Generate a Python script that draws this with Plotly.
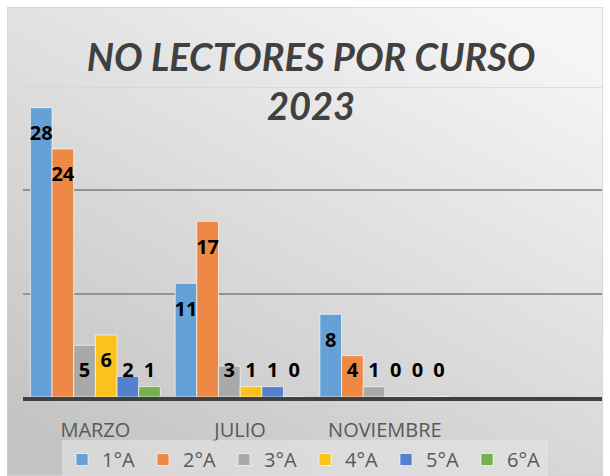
import base64
import plotly.graph_objects as go

months = ["MARZO", "JULIO", "NOVIEMBRE"]
courses = ["1°A", "2°A", "3°A", "4°A", "5°A", "6°A"]
v1 = [28, 11, 8]
v2 = [24, 17, 4]
v3 = [5, 3, 1]
v4 = [6, 1, 0]
v5 = [2, 1, 0]
v6 = [1, 0, 0]
series = [v1, v2, v3, v4, v5, v6]
colors = ["#65a0d6", "#ed8944", "#a9a9a9", "#fbc21e", "#5481cb", "#77b04f"]
title_lines = ["NO LECTORES POR CURSO", "2023"]

W, H = 610, 476
BARGAP = 0.102

fig = go.Figure()
for name, vals, col in zip(courses, series, colors):
    fig.add_trace(go.Bar(
        x=months, y=vals, name=name,
        marker=dict(color=col, line=dict(color="rgba(255,255,255,0.65)", width=1)),
        hoverinfo="x+y+name",
    ))
for name, vals in zip(courses, series):
    fig.add_trace(go.Scatter(
        x=months, y=[max(v - 2.65, 2.4) for v in vals],
        text=[str(v) for v in vals], mode="text",
        textposition="middle center",
        textfont=dict(family="Open Sans", size=20, color="#000000", weight="bold"),
        showlegend=False, hoverinfo="skip",
    ))

# background gradient (chart area fill)
svg = ('<svg xmlns="http://www.w3.org/2000/svg" width="596" height="469">'
       '<defs><linearGradient id="g" x1="0.85" y1="0" x2="0.15" y2="1">'
       '<stop offset="0" stop-color="#f6f6f6"/><stop offset="1" stop-color="#c3c3c3"/>'
       '</linearGradient></defs>'
       '<rect x="0" y="0" width="596" height="469" fill="url(#g)" stroke="#d2d2d2" stroke-width="1.5"/></svg>')
src = "data:image/svg+xml;base64," + base64.b64encode(svg.encode()).decode()

fig.update_layout(
    width=W, height=H,
    margin=dict(l=0, r=0, t=0, b=0, autoexpand=False),
    paper_bgcolor="#ffffff",
    plot_bgcolor="rgba(0,0,0,0)",
    barmode="group", bargap=BARGAP, bargroupgap=0,
    scattermode="group", scattergap=BARGAP,
    showlegend=True,
    images=[dict(source=src, xref="paper", yref="paper",
                 x=7 / W, y=1 - 7 / H, sizex=596 / W, sizey=469 / H,
                 xanchor="left", yanchor="top", sizing="stretch", layer="below")],
    title=dict(text="<br>".join(title_lines), x=0.51, xanchor="center",
               y=1 - 71 / H, yanchor="middle",
               font=dict(family="Lato", size=38, color="#404040", weight="bold", style="italic")),
    xaxis=dict(type="category", categoryarray=months, range=[-0.5, 3.5],
               domain=[23 / W, 602 / W],
               showgrid=False, showline=True, linecolor="#404040", linewidth=4,
               ticks="outside", ticklen=12, tickcolor="rgba(0,0,0,0)",
               tickfont=dict(family="Open Sans", size=20, color="#595959")),
    yaxis=dict(range=[0, 30], domain=[(H - 397) / H, (H - 87) / H],
               tickvals=[10, 20], showticklabels=False, showgrid=True,
               gridcolor="#939393", gridwidth=1.5, zeroline=False, showline=False),
    legend=dict(orientation="h", x=62 / W, xanchor="left", y=36 / H, yanchor="top",
                entrywidth=36, entrywidthmode="pixels",
                bgcolor="rgba(232,232,232,0.55)",
                font=dict(family="Open Sans", size=20, color="#595959"),
                traceorder="normal"),
    shapes=[dict(type="line", xref="paper", yref="y", x0=23 / W, x1=602 / W, y0=30, y1=30,
                 line=dict(color="#d6d6d6", width=1.5), layer="below")],
)

fig.write_html("out.html")
